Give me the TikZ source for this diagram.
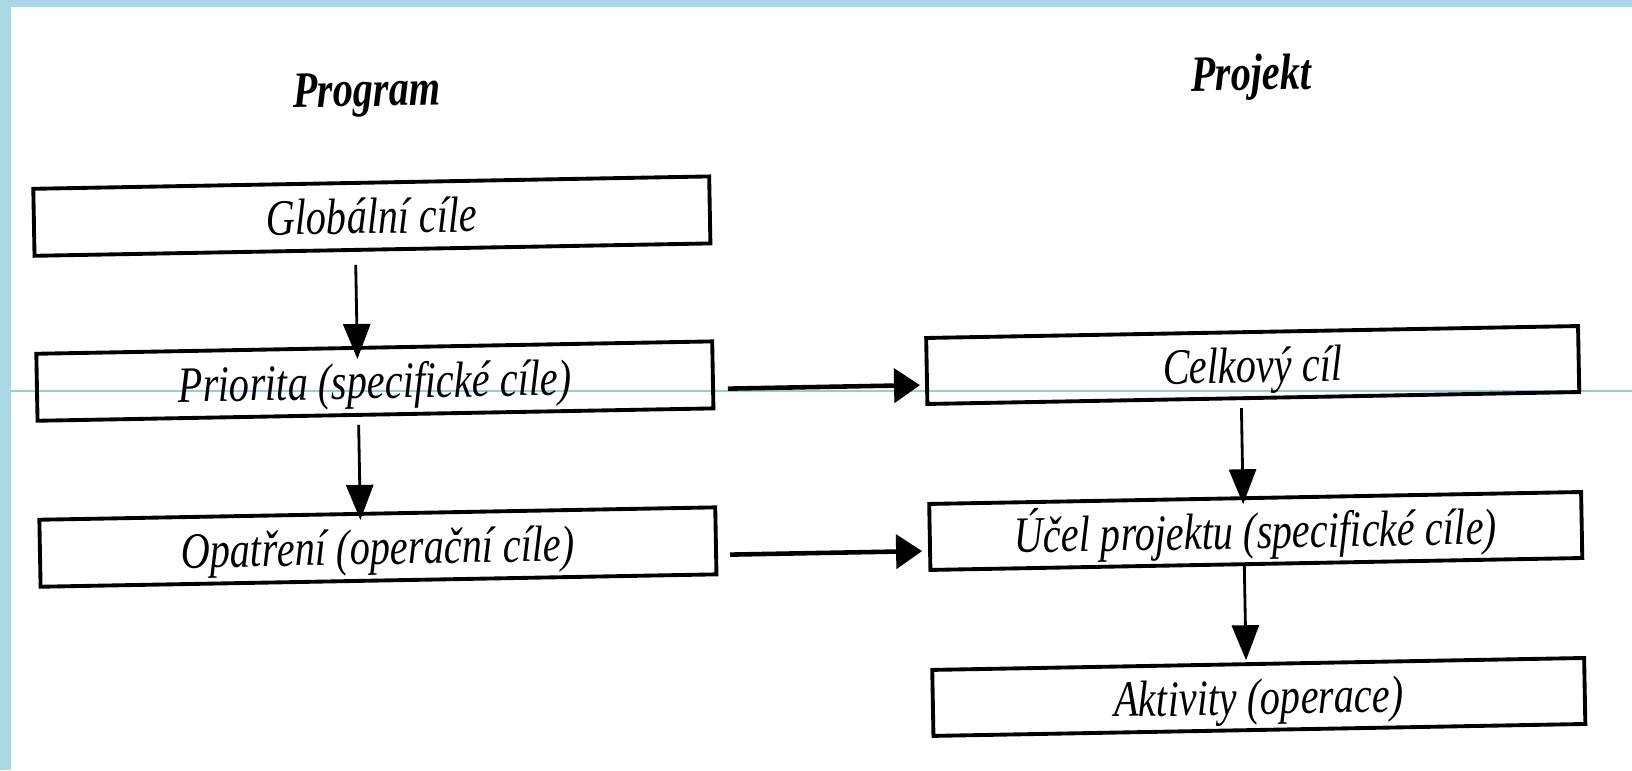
\documentclass[tikz,border=0pt]{standalone}
\usepackage{fontspec}
\setmainfont{Liberation Serif}[FakeStretch=0.79]
\usetikzlibrary{arrows.meta}
\definecolor{scanblue}{RGB}{168,216,228}
\definecolor{scanline}{RGB}{150,205,212}
\tikzset{
  box/.style={draw, line width=1.1pt, inner sep=0pt, minimum height=0.67cm,
    text height=12pt, text depth=2.1pt, font=\fontsize{14.5}{17}\selectfont\itshape},
  leftbox/.style={box, minimum width=6.76cm},
  rightbox/.style={box, minimum width=6.52cm, minimum height=0.66cm},
  heading/.style={anchor=base, font=\fontsize{14.5}{17}\selectfont\bfseries\itshape},
  downarrow/.style={-{Triangle[length=0.35cm,width=0.27cm]}, line width=0.8pt},
  sidearrow/.style={-{Triangle[length=0.26cm,width=0.34cm]}, line width=1.3pt},
}

\begin{document}
\begin{tikzpicture}
    \useasboundingbox (0,0) rectangle (16.32,7.70);
    \fill[white] (0,0) rectangle (16.32,7.70);
    % edge of the scanned page
    \fill[scanblue] (0,0) rectangle (0.11,7.70);
    \fill[scanblue] (0,7.63) rectangle (16.32,7.70);
    \draw[scanline, line width=0.3pt] (0.11,3.79) -- (16.32,3.79);

    \begin{scope}[rotate around={1.05:(8.16,3.85)}, transform shape]
        \node[heading] (prog) at (3.72,6.72) {Program};
        \node[heading] (proj) at (12.57,6.72) {Projekt};

        \node[leftbox] (glob) at (3.75,5.62) {Globální cíle};
        \node[leftbox] (prio) at (3.75,3.97) {Priorita (specifické cíle)};
        \node[leftbox] (opat) at (3.75,2.31) {Opatření (operační cíle)};

        \node[rightbox] (celk) at (12.53,3.97) {Celkový cíl};
        \node[rightbox] (ucel) at (12.53,2.31) {Účel projektu (specifické cíle)};
        \node[rightbox] (akti) at (12.53,0.65) {Aktivity (operace)};

        \draw[downarrow, shorten <=0.13cm, shorten >=-0.13cm] ([xshift=-0.17cm]glob.south) -- ([xshift=-0.17cm]prio.north);
        \draw[downarrow, shorten <=0.08cm, shorten >=-0.08cm] ([xshift=-0.17cm]prio.south) -- ([xshift=-0.17cm]opat.north);
        \draw[downarrow, shorten <=0.08cm, shorten >=-0.08cm] ([xshift=-0.12cm]celk.south) -- ([xshift=-0.12cm]ucel.north);
        \draw[downarrow, shorten >=0.02cm] ([xshift=-0.12cm]ucel.south) -- ([xshift=-0.12cm]akti.north);

        \draw[sidearrow, shorten <=0.13cm, shorten >=0.05cm] ([yshift=-0.14cm]prio.east) -- ([yshift=-0.14cm]celk.west);
        \draw[sidearrow, shorten <=0.12cm, shorten >=0.06cm] ([yshift=-0.14cm]opat.east) -- ([yshift=-0.14cm]ucel.west);
    \end{scope}
\end{tikzpicture}
\end{document}
